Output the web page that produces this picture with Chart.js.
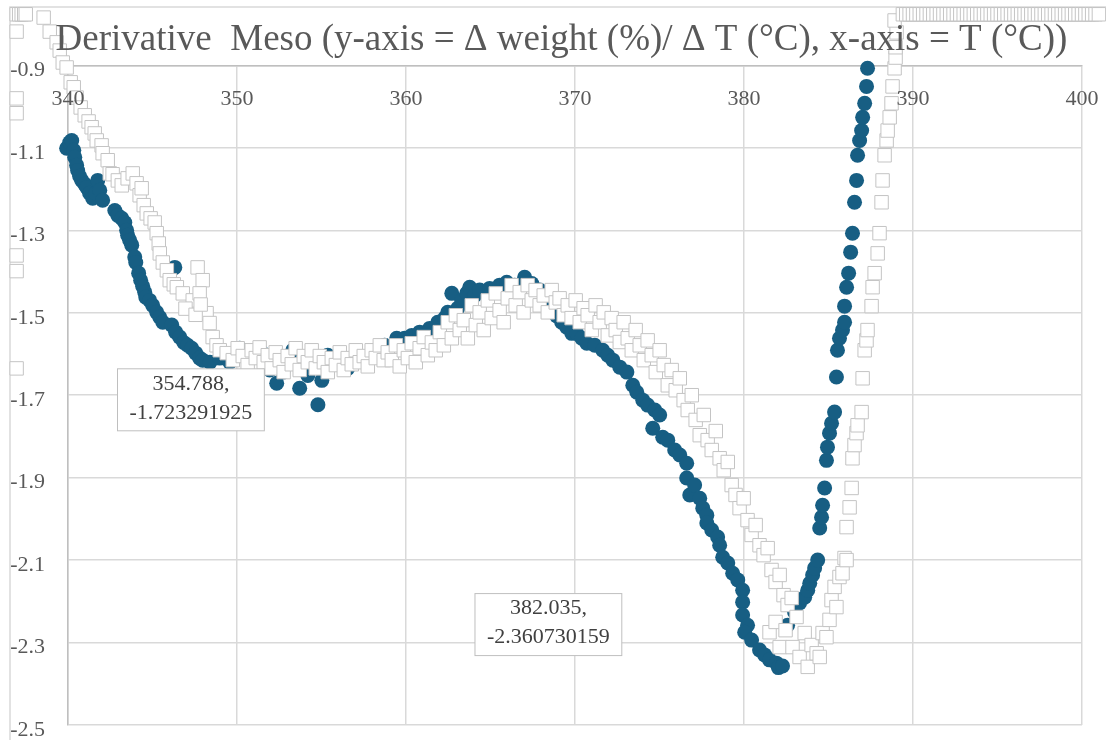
<!DOCTYPE html>
<html>
<head>
<meta charset="utf-8">
<script src="https://cdn.jsdelivr.net/npm/chart.js@4.4.1/dist/chart.umd.min.js"></script>
<style>
  html, body { margin: 0; padding: 0; background: #fff; }
  #wrap { width: 1106px; height: 740px; }
</style>
</head>
<body>
<div id="wrap"><canvas id="derivChart" width="1106" height="740"></canvas></div>
<script>
const chartTitle = 'Derivative  Meso (y-axis = \u0394 weight (%)/ \u0394 T (\u00B0C), x-axis = T (\u00B0C))';
const xTicks = [340, 350, 360, 370, 380, 390, 400];
const yTicks = [-2.5, -2.3, -2.1, -1.9, -1.7, -1.5, -1.3, -1.1, -0.9];

// filled blue circles
const blueX = [
  339.92, 340.10, 340.22, 340.34, 340.40, 340.51, 340.57, 340.69, 340.81, 340.99,
  341.11, 341.28, 341.46, 341.64, 341.76, 341.88, 342.05, 342.77, 342.95, 343.18,
  343.36, 343.47, 343.53, 343.65, 343.77, 343.95, 344.01, 344.18, 344.30, 344.42,
  344.54, 344.60, 344.83, 345.01, 345.25, 345.43, 345.61, 346.32, 346.14, 346.37,
  346.61, 346.85, 347.08, 347.32, 347.56, 347.79, 347.97, 348.40, 348.98, 349.57,
  350.16, 350.75, 351.46, 351.94, 352.35, 352.71, 353.00, 353.30, 353.71, 354.19,
  354.788, 355.02, 355.37, 355.96, 356.55, 357.14, 357.97, 358.74, 359.45, 359.92,
  360.34, 360.81, 361.40, 361.88, 362.29, 362.47, 362.71, 363.06, 363.30, 363.59,
  363.77, 364.07, 364.36, 364.95, 365.54, 365.96, 366.43, 366.73, 367.02, 367.44,
  367.91, 368.39, 368.92, 369.21, 369.51, 369.81, 370.10, 370.40, 370.70, 371.17,
  371.64, 371.94, 372.24, 372.65, 373.07, 373.42, 373.66, 374.01, 374.30, 374.72,
  374.60, 375.01, 375.19, 375.49, 375.90, 376.20, 376.61, 376.61, 376.79, 377.08,
  377.38, 377.56, 377.80, 377.80, 378.09, 378.44, 378.56, 378.74, 379.04, 379.33,
  379.63, 379.92, 379.92, 379.92, 380.21, 380.04, 380.45, 380.92, 381.22, 381.51,
  381.92, 382.035, 382.28, 382.58, 382.99, 383.29, 383.59, 383.77, 383.89, 384.06,
  384.18, 384.36, 384.48, 384.59, 384.65, 384.77, 384.88, 384.94, 385.06, 385.18,
  385.36, 385.47, 385.53, 385.65, 385.83, 385.95, 385.95, 386.07, 386.19, 386.31,
  386.42, 386.54, 386.66, 386.72, 386.84, 386.96, 387.02, 387.14, 387.25, 387.31
];
const blueY = [
  -1.101, -1.087, -1.082, -1.106, -1.123, -1.142, -1.155, -1.169, -1.179, -1.188,
  -1.196, -1.210, -1.222, -1.210, -1.179, -1.203, -1.227, -1.252, -1.264, -1.271,
  -1.281, -1.300, -1.312, -1.324, -1.336, -1.365, -1.378, -1.404, -1.421, -1.436,
  -1.450, -1.462, -1.470, -1.482, -1.499, -1.511, -1.523, -1.390, -1.530, -1.547,
  -1.559, -1.572, -1.579, -1.586, -1.598, -1.610, -1.615, -1.620, -1.610, -1.620,
  -1.586, -1.603, -1.596, -1.639, -1.671, -1.644, -1.615, -1.591, -1.683, -1.652,
  -1.723291925, -1.664, -1.603, -1.620, -1.635, -1.615, -1.596, -1.579, -1.562, -1.562,
  -1.555, -1.547, -1.538, -1.523, -1.513, -1.499, -1.453, -1.489, -1.470, -1.453,
  -1.438, -1.458, -1.445, -1.441, -1.433, -1.426, -1.433, -1.438, -1.414, -1.429,
  -1.445, -1.470, -1.508, -1.523, -1.535, -1.550, -1.550, -1.562, -1.574, -1.579,
  -1.591, -1.603, -1.615, -1.632, -1.644, -1.676, -1.693, -1.712, -1.724, -1.736,
  -1.780, -1.748, -1.802, -1.809, -1.833, -1.845, -1.865, -1.901, -1.942, -1.918,
  -1.950, -1.974, -1.991, -2.010, -2.027, -2.044, -2.064, -2.093, -2.107, -2.132,
  -2.148, -2.173, -2.202, -2.233, -2.258, -2.275, -2.294, -2.318, -2.330, -2.342,
  -2.350, -2.360730159, -2.357, -2.258, -2.226, -2.204, -2.190, -2.173, -2.156, -2.136,
  -2.119, -2.100, -2.022, -1.996, -1.967, -1.925, -1.858, -1.826, -1.792, -1.768,
  -1.741, -1.656, -1.591, -1.562, -1.542, -1.523, -1.484, -1.438, -1.404, -1.353,
  -1.307, -1.232, -1.179, -1.118, -1.082, -1.058, -1.026, -0.992, -0.951, -0.907
];

// open grey squares
const whiteX = [
  // top-left edge and left column
  336.96, 337.11, 337.26, 337.41, 337.50,
  336.96, 336.96, 336.96, 336.96, 336.96, 336.96,
  // steep drop
  338.56, 338.92, 339.33, 339.51, 339.69, 339.92, 340.16, 340.34, 340.51, 340.75,
  340.99, 341.22, 341.40, 341.58, 341.70, 341.99, 342.05, 342.35, 342.47, 342.64,
  342.95, 343.18, 343.53, 343.83, 344.06, 344.24, 344.36, 344.48, 344.66, 344.89,
  345.13, 345.25, 345.37, 345.43, 345.61, 345.85, 346.02, 346.26, 346.44, 346.79,
  347.38, 347.67, 347.97, 347.79, 348.20, 348.38, 348.56, 348.79, 348.98, 349.39,
  346.95, 347.55, 347.85,
  // plateau
  349.75, 350.04, 350.34, 350.63, 350.87, 351.11, 351.34, 351.58, 351.82, 352.05,
  352.29, 352.53, 352.76, 353.00, 353.24, 353.47, 353.71, 353.95, 354.19, 354.42,
  354.66, 354.90, 355.14, 355.37, 355.61, 355.85, 356.08, 356.32, 356.55, 356.79,
  357.03, 357.26, 357.50, 357.74, 357.97, 358.21, 358.45, 358.68, 358.92,
  // hump
  359.16, 359.40, 359.63, 359.87, 360.11, 360.34, 360.58, 360.81, 361.05, 361.29,
  361.53, 361.76, 362.00, 362.24, 362.47, 362.71, 362.95, 363.18, 363.42, 363.66,
  363.89, 364.13, 364.36, 364.60, 364.84, 365.07, 365.31, 365.54, 365.78, 366.02,
  366.25, 366.49, 366.73, 366.96, 367.20, 367.44, 367.67, 367.91, 368.15, 368.39,
  368.62, 368.86, 369.09, 369.33, 369.57,
  // fall
  369.80, 370.04, 370.28, 370.51, 370.75, 370.99, 371.22, 371.46, 371.70, 371.94,
  372.17, 372.41, 372.65, 372.88, 373.12, 373.36, 373.59, 373.83, 374.07, 374.30,
  374.54, 374.78, 375.01, 375.25, 375.49, 375.72, 375.96, 376.20, 376.43, 376.67,
  376.91, 377.14, 377.38, 377.62, 377.85, 378.09, 378.33, 378.56, 378.80, 379.04,
  379.27, 379.50, 379.74, 379.98, 380.21, 380.45, 380.69, 380.92, 381.16, 381.40,
  381.63, 381.87, 382.11, 382.34, 382.58, 382.82,
  // bottom
  381.51, 381.87, 382.11, 382.46, 382.87, 383.11, 383.29, 383.59, 383.77, 384.00,
  384.30, 384.48, 384.65, 384.88, 385.06, 385.18, 385.36, 385.47, 385.65, 385.83,
  385.95, 386.07,
  // rise
  386.07, 386.25, 386.37, 386.42, 386.54, 386.66, 386.72, 386.96, 387.02, 387.14,
  387.25, 387.31, 387.55, 387.61, 387.73, 387.91, 388.02, 388.14, 388.20, 388.32,
  388.44, 388.50, 388.62, 388.73, 388.79, 388.91, 388.97, 388.97, 389.03, 388.91,
  // top-right edge
  389.4, 389.6, 389.8, 390.0, 390.2, 390.4, 390.6, 390.8, 391.0, 391.2,
  391.4, 391.6, 391.8, 392.0, 392.2, 392.4, 392.6, 392.8, 393.0, 393.2,
  393.4, 393.6, 393.8, 394.0, 394.2, 394.4, 394.6, 394.8, 395.0, 395.2,
  395.4, 395.6, 395.8, 396.0, 396.2, 396.4, 396.6, 396.8, 397.0, 397.2,
  397.4, 397.6, 397.8, 398.0, 398.2, 398.4, 398.6, 398.8, 399.0, 399.2,
  399.4, 399.6, 399.8, 400.0, 400.2, 400.4, 400.6, 400.8, 401.0
];
const whiteY = [
  -0.776, -0.776, -0.776, -0.776, -0.776,
  -0.818, -0.980, -1.016, -1.361, -1.399, -1.635,
  -0.784, -0.818, -0.844, -0.864, -0.893, -0.905, -0.941, -0.953, -0.978, -1.002,
  -1.021, -1.036, -1.050, -1.065, -1.082, -1.094, -1.113, -1.130, -1.162, -1.164,
  -1.179, -1.191, -1.174, -1.162, -1.186, -1.215, -1.198, -1.239, -1.259, -1.271,
  -1.281, -1.307, -1.332, -1.356, -1.378, -1.397, -1.421, -1.431, -1.438, -1.453,
  -1.470, -1.390, -1.421, -1.453, -1.501, -1.525, -1.559, -1.579, -1.591, -1.598,
  -1.490, -1.505, -1.480,
  -1.615, -1.586, -1.605, -1.627, -1.591, -1.610, -1.584, -1.620, -1.603, -1.635,
  -1.596, -1.615, -1.644, -1.605, -1.625, -1.586, -1.639, -1.605, -1.620, -1.591,
  -1.635, -1.605, -1.620, -1.644, -1.610, -1.627, -1.596, -1.639, -1.610, -1.625,
  -1.591, -1.620, -1.605, -1.630, -1.591, -1.610, -1.579, -1.615, -1.596,
  -1.615, -1.579, -1.630, -1.591, -1.610, -1.574, -1.620, -1.586, -1.559, -1.603,
  -1.572, -1.591, -1.547, -1.579, -1.523, -1.562, -1.506, -1.542, -1.518, -1.562,
  -1.482, -1.530, -1.499, -1.542, -1.470, -1.513, -1.453, -1.494, -1.523, -1.465,
  -1.433, -1.482, -1.450, -1.499, -1.433, -1.470, -1.445, -1.482, -1.458, -1.499,
  -1.445, -1.475, -1.465, -1.506, -1.482,
  -1.513, -1.470, -1.523, -1.489, -1.506, -1.542, -1.482, -1.523, -1.499, -1.555,
  -1.513, -1.542, -1.571, -1.523, -1.562, -1.591, -1.542, -1.579, -1.615, -1.567,
  -1.603, -1.644, -1.591, -1.627, -1.676, -1.639, -1.688, -1.659, -1.712, -1.736,
  -1.700, -1.760, -1.797, -1.748, -1.809, -1.833, -1.787, -1.853, -1.882, -1.862,
  -1.918, -1.942, -1.974, -1.950, -2.003, -2.039, -2.015, -2.064, -2.088, -2.071,
  -2.124, -2.153, -2.136, -2.185, -2.209, -2.192,
  -2.275, -2.250, -2.311, -2.270, -2.311, -2.238, -2.335, -2.277, -2.359, -2.306,
  -2.326, -2.335, -2.277, -2.287, -2.245, -2.197, -2.165, -2.214, -2.141, -2.132,
  -2.095, -2.100,
  -2.020, -1.972, -1.925, -1.853, -1.821, -1.792, -1.773, -1.741, -1.659, -1.591,
  -1.567, -1.542, -1.484, -1.438, -1.404, -1.356, -1.307, -1.232, -1.179, -1.118,
  -1.082, -1.058, -1.026, -0.992, -0.951, -0.907, -0.881, -0.856, -0.820, -0.791,
  -0.776, -0.776, -0.776, -0.776, -0.776, -0.776, -0.776, -0.776, -0.776, -0.776,
  -0.776, -0.776, -0.776, -0.776, -0.776, -0.776, -0.776, -0.776, -0.776, -0.776,
  -0.776, -0.776, -0.776, -0.776, -0.776, -0.776, -0.776, -0.776, -0.776, -0.776,
  -0.776, -0.776, -0.776, -0.776, -0.776, -0.776, -0.776, -0.776, -0.776, -0.776,
  -0.776, -0.776, -0.776, -0.776, -0.776, -0.776, -0.776, -0.776, -0.776, -0.776,
  -0.776, -0.776, -0.776, -0.776, -0.776, -0.776, -0.776, -0.776, -0.776
];

// data labels shown on two points
const labelX = [354.788, 382.035];
const labelY = [-1.723291925, -2.360730159];

if (blueX.length !== blueY.length || whiteX.length !== whiteY.length) {
  throw new Error('length mismatch ' + blueX.length + '/' + blueY.length + ' ' + whiteX.length + '/' + whiteY.length);
}

const serif = "'Liberation Serif', 'Times New Roman', serif";
const tickColor = '#595959';
const gridColor = '#D9D9D9';

// excel keeps drawing markers past the plot box, chart.js skips them, so draw them ourselves
const drawOutside = {
  id: 'drawOutside',
  beforeDatasetDraw(chart, args) {
    const ctx = chart.ctx;
    const big = { left: -10000, right: 10000, top: -10000, bottom: 10000 };
    ctx.save();
    args.meta.data.forEach(pt => pt.draw(ctx, big));
    ctx.restore();
    return false;
  }
};

// title is painted over the markers in the original
const titleOnTop = {
  id: 'titleOnTop',
  beforeUpdate(chart) {
    const tb = chart.titleBlock;
    if (tb) tb._layers = () => [{ z: 1, draw: area => tb.draw(area) }];
  }
};

const outerFrame = {
  id: 'outerFrame',
  beforeDatasetsDraw(chart) {
    const ctx = chart.ctx;
    ctx.save();
    ctx.strokeStyle = gridColor;
    ctx.lineWidth = 1.5;
    ctx.beginPath();
    ctx.moveTo(10, chart.height);
    ctx.lineTo(10, 7);
    ctx.lineTo(chart.width, 7);
    ctx.stroke();
    ctx.restore();
  }
};

const pointLabels = {
  id: 'pointLabels',
  afterDatasetsDraw(chart, args, opts) {
    const ctx = chart.ctx;
    const xs = chart.scales.x, ys = chart.scales.y;
    ctx.save();
    ctx.font = '22px ' + serif;
    ctx.textAlign = 'center';
    ctx.textBaseline = 'middle';
    labelX.forEach((lx, i) => {
      const cx = xs.getPixelForValue(lx) + opts.offsets[i][0];
      const cy = ys.getPixelForValue(labelY[i]) + opts.offsets[i][1];
      const lines = [lx + ',', String(labelY[i])];
      const w = Math.max(...lines.map(t => ctx.measureText(t).width)) + 24;
      const h = 62;
      ctx.fillStyle = '#FFFFFF';
      ctx.fillRect(cx - w / 2, cy - h / 2, w, h);
      ctx.strokeStyle = '#BFBFBF';
      ctx.lineWidth = 1;
      ctx.strokeRect(cx - w / 2, cy - h / 2, w, h);
      ctx.fillStyle = '#404040';
      ctx.fillText(lines[0], cx, cy - 16);
      ctx.fillText(lines[1], cx, cy + 13);
    });
    ctx.restore();
  }
};

// labels sit outside their axis boxes here, so no clipping and no edge padding
function looseAxis(s) {
  s.paddingTop = 0;
  s.paddingBottom = 0;
  s.paddingLeft = 0;
  s.paddingRight = 0;
  s._computeLabelArea = () => undefined;
}

new Chart(document.getElementById('derivChart'), {
  type: 'scatter',
  data: {
    datasets: [
      {
        label: 'Meso 2',
        data: whiteX.map((v, i) => ({ x: v, y: whiteY[i] })),
        pointStyle: 'rect',
        pointRadius: 9.5,
        backgroundColor: '#FFFFFF',
        borderColor: '#C4C4C4',
        borderWidth: 1
      },
      {
        label: 'Meso 1',
        data: blueX.map((v, i) => ({ x: v, y: blueY[i] })),
        pointStyle: 'circle',
        pointRadius: 7.5,
        backgroundColor: '#175E83',
        borderColor: '#175E83',
        borderWidth: 0
      }
    ]
  },
  options: {
    responsive: false,
    animation: false,
    events: [],
    layout: { padding: { left: 41, right: 24, top: 0, bottom: 15 } },
    plugins: {
      legend: { display: false },
      tooltip: { enabled: false },
      title: {
        display: true,
        text: chartTitle,
        color: tickColor,
        font: { family: serif, size: 37, weight: 'normal' },
        padding: { top: 18, bottom: 0 }
      },
      pointLabels: { offsets: [[-127, -5], [-230, -43]] }
    },
    scales: {
      x: {
        type: 'linear',
        position: 'top',
        min: 340,
        max: 400,
        afterBuildTicks: s => { s.ticks = xTicks.map(v => ({ value: v })); },
        afterFit: s => { s.height = 3; looseAxis(s); },
        ticks: {
          z: 1,
          padding: -47,
          color: tickColor,
          font: { family: serif, size: 22 },
          maxRotation: 0,
          autoSkip: false,
          callback: v => String(v)
        },
        grid: { color: gridColor, lineWidth: 1.5, drawTicks: false },
        border: { color: '#BFBFBF', width: 1.5 }
      },
      y: {
        type: 'linear',
        min: -2.5,
        max: -0.9,
        afterBuildTicks: s => { s.ticks = yTicks.map(v => ({ value: v })); },
        afterFit: s => { s.width = 27; looseAxis(s); },
        ticks: {
          z: 1,
          padding: 23,
          labelOffset: 5,
          color: tickColor,
          font: { family: serif, size: 22 },
          autoSkip: false,
          callback: v => v.toFixed(1)
        },
        grid: { color: gridColor, lineWidth: 1.5, drawTicks: false },
        border: { color: '#BFBFBF', width: 1.5 }
      }
    }
  },
  plugins: [titleOnTop, outerFrame, drawOutside, pointLabels]
});
</script>
</body>
</html>
